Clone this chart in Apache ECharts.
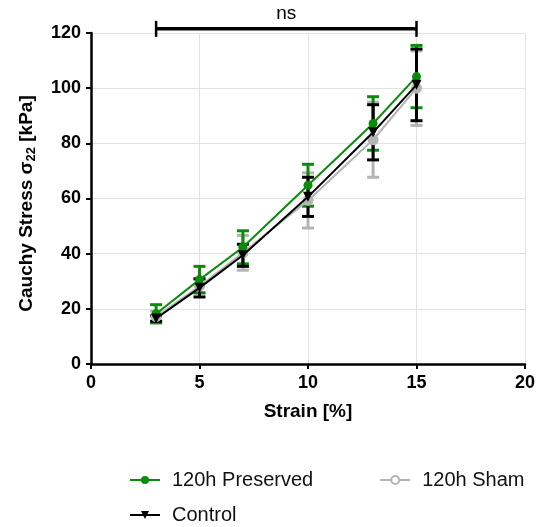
<!DOCTYPE html>
<html>
<head>
<meta charset="utf-8">
<script src="https://cdn.jsdelivr.net/npm/echarts@6/dist/echarts.min.js"></script>
<style>
  html, body { margin: 0; padding: 0; background: #fff; }
  #chart { width: 543px; height: 527px; }
</style>
</head>
<body>
<div id="chart"></div>
<script>
// Strain steps (%)
const strain = [3, 5, 7, 10, 13, 15];

// Mean Cauchy stress (kPa) and error (±) per group
const preservedMean = [18.2, 30.6, 42.3, 64.8, 87.2, 104.2];
const preservedErr  = [3.3, 4.8, 6.0, 7.6, 9.7, 11.3];
const shamMean      = [17.2, 28.2, 40.3, 59.3, 81.3, 100.0];
const shamErr       = [2.0, 2.5, 6.3, 10.0, 13.6, 13.5];
const controlMean   = [16.5, 27.6, 39.4, 60.6, 84.0, 101.2];
const controlErr    = [1.0, 3.3, 4.0, 7.1, 10.0, 13.0];

// Significance bracket across the strain range
const bracketFrom = 3;
const bracketTo = 15;
const bracketLevel = 121.5;
const bracketText = 'ns';

const xTicks = [0, 5, 10, 15, 20];
const yTicks = [0, 20, 40, 60, 80, 100, 120];

const GREEN = '#0a8c0a';
const GRAY = '#b4b4b4';
const BLACK = '#000000';

const FONT = 'Liberation Sans, Arial, sans-serif';

function pairs(xs, ys) { return xs.map((x, i) => [x, ys[i]]); }
function errRows(xs, m, e) { return xs.map((x, i) => [x, m[i] - e[i], m[i] + e[i]]); }

function errorSeries(name, rows, color, width, capHalf) {
  return {
    type: 'custom',
    name: name + ' err',
    data: rows,
    encode: { x: 0, y: [1, 2] },
    silent: true,
    z: 3,
    renderItem: function (params, api) {
      const lo = api.coord([api.value(0), api.value(1)]);
      const hi = api.coord([api.value(0), api.value(2)]);
      const st = { stroke: color, lineWidth: width };
      return {
        type: 'group',
        children: [
          { type: 'line', shape: { x1: lo[0], y1: lo[1], x2: hi[0], y2: hi[1] }, style: st },
          { type: 'line', shape: { x1: lo[0] - capHalf, y1: lo[1], x2: lo[0] + capHalf, y2: lo[1] }, style: st },
          { type: 'line', shape: { x1: hi[0] - capHalf, y1: hi[1], x2: hi[0] + capHalf, y2: hi[1] }, style: st }
        ]
      };
    }
  };
}

const chart = echarts.init(document.getElementById('chart'), null, { renderer: 'canvas' });

const legendText = { fontFamily: FONT, fontSize: 20, color: '#111', padding: [0, 0, 0, 7] };

chart.setOption({
  animation: false,
  backgroundColor: '#fff',
  textStyle: { fontFamily: FONT },
  grid: { left: 91, right: 18, top: 33, bottom: 163, containLabel: false },
  legend: [
    {
      data: [
        '120h Preserved',
        { name: '120h Sham', itemStyle: { color: '#fff', borderColor: GRAY, borderWidth: 2 } }
      ],
      left: 124, top: 465,
      itemWidth: 30, itemHeight: 10, itemGap: 66,
      textStyle: legendText
    },
    {
      data: ['Control'],
      left: 124, top: 500,
      itemWidth: 30, itemHeight: 10,
      textStyle: legendText
    }
  ],
  xAxis: {
    type: 'value',
    min: xTicks[0], max: xTicks[xTicks.length - 1], interval: 5,
    name: 'Strain [%]',
    nameLocation: 'middle', nameGap: 38,
    nameTextStyle: { fontFamily: FONT, fontSize: 19, fontWeight: 'bold', color: '#000' },
    axisLine: { onZero: false, lineStyle: { color: '#000', width: 2.5 } },
    axisTick: { show: true, inside: false, length: 5, lineStyle: { color: '#000', width: 2 } },
    axisLabel: { margin: 10, fontFamily: FONT, fontSize: 18, fontWeight: 'bold', color: '#000' },
    splitLine: { show: true, lineStyle: { color: '#e2e2e2', width: 1 } }
  },
  yAxis: {
    type: 'value',
    min: yTicks[0], max: yTicks[yTicks.length - 1], interval: 20,
    name: '{a|Cauchy Stress σ}{s|22}{a| [kPa]}',
    nameLocation: 'middle', nameGap: 53, nameRotate: 90,
    nameTextStyle: {
      fontFamily: FONT, fontSize: 19, fontWeight: 'bold', color: '#000',
      padding: [0, 10, 0, 0],
      rich: {
        a: { fontFamily: FONT, fontSize: 19, fontWeight: 'bold', color: '#000', lineHeight: 22 },
        s: { fontFamily: FONT, fontSize: 13, fontWeight: 'bold', color: '#000', lineHeight: 22, verticalAlign: 'bottom', padding: [9, 0, 0, 0] }
      }
    },
    axisLine: { onZero: false, lineStyle: { color: '#000', width: 2.5 } },
    axisTick: { show: true, inside: false, length: 5, lineStyle: { color: '#000', width: 2 } },
    axisLabel: { margin: 10, fontFamily: FONT, fontSize: 18, fontWeight: 'bold', color: '#000' },
    splitLine: { show: true, lineStyle: { color: '#e2e2e2', width: 1 } }
  },
  series: [
    errorSeries('120h Sham', errRows(strain, shamMean, shamErr), GRAY, 3, 6),
    errorSeries('120h Preserved', errRows(strain, preservedMean, preservedErr), GREEN, 3, 6),
    errorSeries('Control', errRows(strain, controlMean, controlErr), BLACK, 3, 6),
    {
      type: 'line', name: '120h Sham',
      data: pairs(strain, shamMean),
      symbol: 'circle', symbolSize: 11,
      lineStyle: { color: GRAY, width: 2 },
      itemStyle: { color: GRAY },
      z: 4
    },
    {
      type: 'line', name: '120h Preserved',
      data: pairs(strain, preservedMean),
      symbol: 'circle', symbolSize: 9,
      lineStyle: { color: GREEN, width: 2 },
      itemStyle: { color: GREEN },
      z: 5
    },
    {
      type: 'line', name: 'Control',
      data: pairs(strain, controlMean),
      symbol: 'triangle', symbolRotate: 180, symbolSize: 10,
      lineStyle: { color: BLACK, width: 2 },
      itemStyle: { color: BLACK },
      z: 6
    },
    {
      type: 'custom',
      name: 'bracket',
      data: [[bracketFrom, bracketTo, bracketLevel]],
      encode: { x: [0, 1], y: 2 },
      clip: false,
      silent: true,
      z: 7,
      renderItem: function (params, api) {
        const a = api.coord([api.value(0), api.value(2)]);
        const b = api.coord([api.value(1), api.value(2)]);
        const st = { stroke: BLACK, lineWidth: 3.5 };
        return {
          type: 'group',
          children: [
            { type: 'line', shape: { x1: a[0], y1: a[1], x2: b[0], y2: b[1] }, style: st },
            { type: 'line', shape: { x1: a[0], y1: a[1] - 8, x2: a[0], y2: a[1] + 8 }, style: { stroke: BLACK, lineWidth: 2.5 } },
            { type: 'line', shape: { x1: b[0], y1: b[1] - 8, x2: b[0], y2: b[1] + 8 }, style: { stroke: BLACK, lineWidth: 2.5 } },
            {
              type: 'text',
              style: {
                text: bracketText, x: (a[0] + b[0]) / 2, y: a[1] - 6,
                align: 'center', verticalAlign: 'bottom',
                font: '19px ' + FONT, fill: '#000'
              }
            }
          ]
        };
      }
    }
  ]
});
</script>
</body>
</html>
